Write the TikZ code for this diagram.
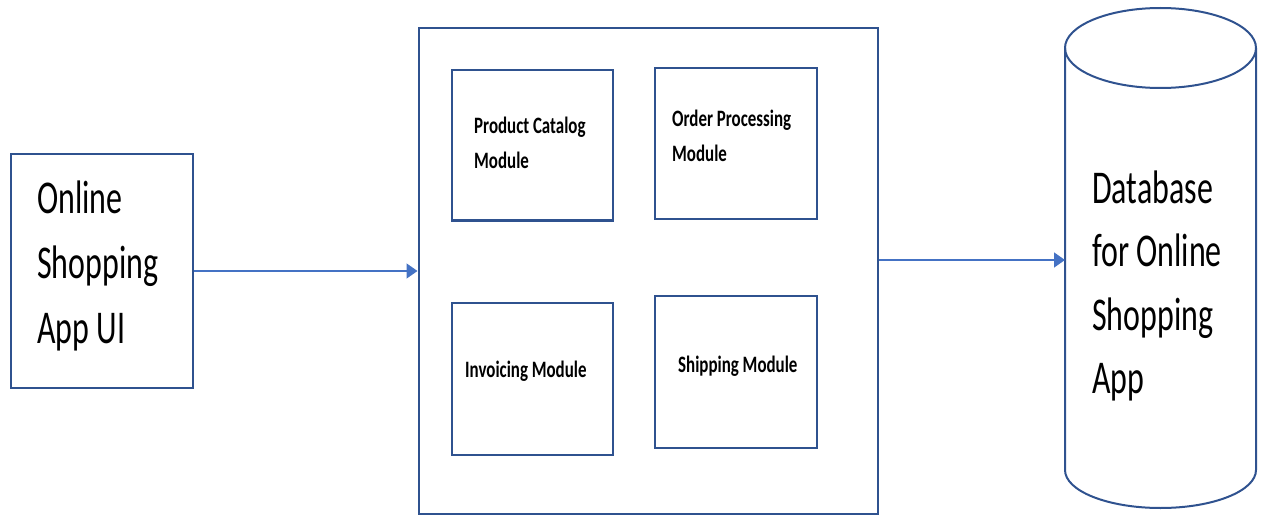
\documentclass[tikz,border=0pt]{standalone}
\usepackage{fontspec}
\usetikzlibrary{arrows.meta}

\newfontfamily\boxfont[FakeStretch=0.72]{Carlito}
\newfontfamily\bigfont[FakeStretch=0.68]{Carlito}
\definecolor{edgeblue}{HTML}{2F528F}
\definecolor{linkblue}{HTML}{4472C4}

\newcommand*{\dbleft}{1065}
\newcommand*{\dbright}{1256}
\newcommand*{\dbtop}{48}
\newcommand*{\dbbottom}{470}

\begin{document}
\begin{tikzpicture}
[
	x=1pt,y=-1pt,
	box/.style={draw=edgeblue,line width=2pt,rectangle,inner sep=0pt},
	bigtext/.style={font=\bigfont\fontsize{47}{65}\selectfont,align=left,anchor=base west,inner sep=0pt},
	modtext/.style={font=\boxfont\bfseries\fontsize{23.5}{35}\selectfont,align=left,anchor=base west,inner sep=0pt},
	link/.style={linkblue,line width=1.5pt,-{Triangle[length=11pt,width=15pt]}}
]

	\useasboundingbox (0,0) rectangle (1262,516);

	% user interface
	\node[box,minimum width=182pt,minimum height=234pt] (ui) at (101.5,271) {};
	\node[bigtext] (uitext) at (37,343) {Online\\Shopping\\App UI};

	% application block and its modules
	\node[box,minimum width=459pt,minimum height=485pt] (services) at (648,271) {};
	\node[box,minimum width=161pt,minimum height=150pt] (catalog) at (532,145.5) {};
	\node[box,minimum width=162pt,minimum height=151pt] (order) at (735.5,144) {};
	\node[box,minimum width=161pt,minimum height=152pt] (invoice) at (532,378.5) {};
	\node[box,minimum width=162pt,minimum height=152pt] (shipping) at (735.5,371.5) {};

	% module names (base anchor sits on the last line)
	\node[modtext] (catalogtext) at (474,168) {Product Catalog\\Module};
	\node[modtext] (ordertext) at (672,162) {Order Processing\\Module};
	\node[modtext] (invoicetext) at (465,377) {Invoicing Module};
	\node[modtext] (shippingtext) at (678,372) {Shipping Module};

	% database cylinder
	\draw[edgeblue,line width=2pt] (1160.5,\dbtop) ellipse [x radius=95.5pt,y radius=40pt];
	\draw[edgeblue,line width=2pt] (\dbleft,\dbtop) -- (\dbleft,\dbbottom)
		arc [start angle=180,end angle=360,x radius=95.5pt,y radius=38pt] -- (\dbright,\dbtop);
	\coordinate (db) at (\dbleft,260);
	\node[bigtext,font=\bigfont\fontsize{47}{63.5}\selectfont] (dbtext) at (1092,393.5) {Database\\for Online\\Shopping\\App};

	% links
	\draw[link] (ui) -- (services);
	\draw[link] (services.east |- db) -- (db);

\end{tikzpicture}
\end{document}
